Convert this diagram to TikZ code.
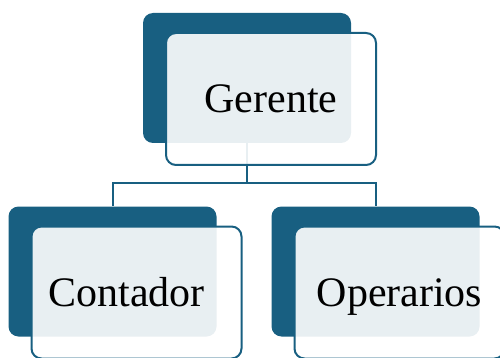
\documentclass[tikz,border=0pt]{standalone}
\usepackage{fontspec}
\setmainfont{Liberation Serif}
\definecolor{orgblue}{RGB}{24,95,129}
\tikzset{
  backbox/.style={rectangle, rounded corners=10pt, fill=orgblue, inner sep=0pt,
    minimum width=208pt, minimum height=130pt},
  frontbox/.style={rectangle, rounded corners=10pt, draw=orgblue, line width=2pt,
    fill=white, fill opacity=0.9, text opacity=1, inner sep=0pt,
    minimum width=210pt, minimum height=132pt,
    font=\fontsize{42}{48}\selectfont, text height=28pt, text depth=0pt},
  link/.style={draw=orgblue, line width=2pt}
}
\begin{document}
\begin{tikzpicture}[x=1pt,y=-1pt]
  \useasboundingbox (0,0) rectangle (500,358);

  % dark boxes behind
  \node[backbox] (gback) at (247,78) {};
  \node[backbox] (cback) at (112.5,271.5) {};
  \node[backbox] (oback) at (375.5,271.5) {};

  % connectors
  \draw[link] (gback.south) -- ++(0,40) -| (cback.north);
  \draw[link] (gback.south) -- ++(0,40) -| (oback.north);

  % light boxes in front
  \node[frontbox] (gerente) at ([shift={(24,21)}]gback.center) {Gerente};
  \node[frontbox] (contador) at ([shift={(24,21)}]cback.center) {Contador\hspace*{20pt}};
  \node[frontbox] (operarios) at ([shift={(24,21)}]oback.center) {Operarios};
\end{tikzpicture}
\end{document}
